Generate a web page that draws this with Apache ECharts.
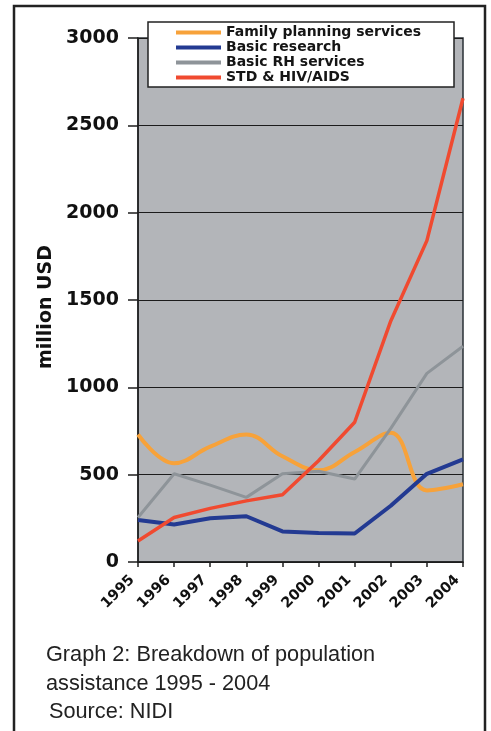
<!DOCTYPE html>
<html>
<head>
<meta charset="utf-8">
<script src="https://cdn.jsdelivr.net/npm/echarts@6/dist/echarts.min.js"></script>
<style>
html,body{margin:0;padding:0;background:#fff;}
#chart{width:491px;height:731px;}
</style>
</head>
<body>
<div id="chart"></div>
<script>
const years = ['1995','1996','1997','1998','1999','2000','2001','2002','2003','2004'];
const familyPlanning = [730, 565, 660, 730, 605, 525, 630, 740, 410, 445];
const basicResearch = [240, 215, 250, 262, 175, 166, 163, 322, 505, 588];
const basicRH = [255, 505, 440, 370, 505, 520, 475, 765, 1080, 1235];
const stdHiv = [120, 255, 307, 350, 385, 580, 800, 1380, 1840, 2655];
const yMin = 0, yMax = 3000, yStep = 500;
const seriesNames = ['Family planning services', 'Basic research', 'Basic RH services', 'STD & HIV/AIDS'];
const seriesColors = ['#f7a23a', '#233a92', '#8e9499', '#f04a30'];
const captionLines = ['Graph 2: Breakdown of population', 'assistance 1995 - 2004', ' Source: NIDI'];

const chart = echarts.init(document.getElementById('chart'), null, {renderer: 'canvas'});
const boldFont = '"DejaVu Sans", sans-serif';

function mk(name, data, color, width, smooth) {
  return {
    name: name, type: 'line', data: data, symbol: 'none', smooth: smooth,
    lineStyle: {color: color, width: width}, itemStyle: {color: color}, z: 2
  };
}

const option = {
  backgroundColor: '#fff',
  animation: false,
  grid: {
    left: 138, right: 28, top: 38, bottom: 169,
    show: true, backgroundColor: '#b3b5b9', borderColor: '#2a3136', borderWidth: 1.5
  },
  legend: {
    orient: 'vertical', left: 176, top: 25, padding: 0, itemGap: 0,
    itemWidth: 45, itemHeight: 4, z: 5, icon: 'rect',
    data: seriesNames.map((n, i) => ({name: n, icon: 'rect', itemStyle: {color: seriesColors[i]}})),
    textStyle: {fontFamily: boldFont, fontWeight: 'bold', fontSize: 14, color: '#151515', lineHeight: 15}
  },
  xAxis: {
    type: 'category', data: years, boundaryGap: false,
    axisLine: {lineStyle: {color: '#1e1e1e', width: 1.5}},
    axisTick: {show: true, length: 5, lineStyle: {color: '#1e1e1e', width: 1.5}},
    axisLabel: {
      rotate: 45, margin: 10, padding: [0, 8, 0, 0], interval: 0,
      fontFamily: boldFont, fontWeight: 'bold', fontSize: 14.5, color: '#111'
    },
    splitLine: {show: false}
  },
  yAxis: {
    type: 'value', min: yMin, max: yMax, interval: yStep,
    name: 'million USD', nameLocation: 'middle', nameGap: 74,
    nameTextStyle: {fontFamily: boldFont, fontWeight: 'bold', fontSize: 19, color: '#111', padding: [0, 14, 0, 0]},
    axisLine: {show: true, lineStyle: {color: '#1e1e1e', width: 1.5}},
    axisTick: {show: true, length: 10, lineStyle: {color: '#1e1e1e', width: 1.5}},
    axisLabel: {margin: 19, fontFamily: boldFont, fontWeight: 'bold', fontSize: 19, color: '#111',
      formatter: v => String(v)},
    splitLine: {show: true, lineStyle: {color: '#1c1c1c', width: 1}}
  },
  series: [
    mk(seriesNames[0], familyPlanning, seriesColors[0], 4, 0.4),
    mk(seriesNames[1], basicResearch, seriesColors[1], 4, false),
    mk(seriesNames[2], basicRH, seriesColors[2], 3, false),
    mk(seriesNames[3], stdHiv, seriesColors[3], 3.5, false)
  ],
  graphic: [
    {type: 'polyline', z: 10, shape: {points: [[14, 731], [14, 6], [485, 6], [485, 731]]},
     style: {stroke: '#222', lineWidth: 2.5, fill: null}},
    {type: 'rect', z: 4, shape: {x: 148, y: 22, width: 306, height: 65},
     style: {fill: '#fff', stroke: '#222', lineWidth: 1.5}},
    {type: 'text', z: 10, x: 46, y: 655, style: {text: captionLines[0], font: '21.7px "Liberation Sans", Arial, sans-serif', fill: '#222', verticalAlign: 'middle'}},
    {type: 'text', z: 10, x: 46, y: 684, style: {text: captionLines[1], font: '21.7px "Liberation Sans", Arial, sans-serif', fill: '#222', verticalAlign: 'middle'}},
    {type: 'text', z: 10, x: 43, y: 712, style: {text: captionLines[2], font: '21.7px "Liberation Sans", Arial, sans-serif', fill: '#222', verticalAlign: 'middle'}}
  ]
};
chart.setOption(option);
</script>
</body>
</html>
